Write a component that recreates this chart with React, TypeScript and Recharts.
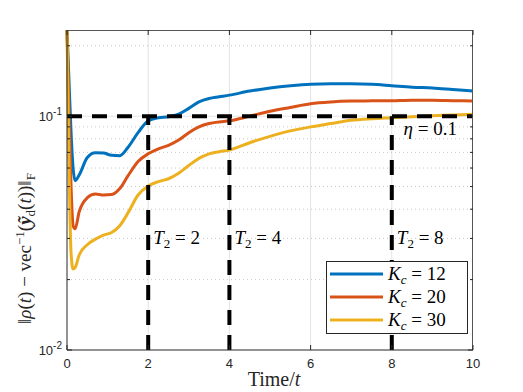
import React from "react";
import {
  LineChart,
  Line,
  XAxis,
  YAxis,
  ReferenceLine,
  Legend,
  Label,
} from "recharts";

// sample times (shared by the three runs)
const time = [
  0, 0.05, 0.1, 0.15, 0.2, 0.3, 0.5, 0.7, 0.9, 1.1, 1.3, 1.5, 1.75, 2, 2.25,
  2.5, 2.75, 3, 3.25, 3.5, 3.75, 4, 4.5, 5, 5.5, 6, 6.5, 7, 7.5, 8, 8.5, 9,
  9.5, 10,
];

const kc12 = [
  0.233, 0.14, 0.085, 0.06, 0.053, 0.056, 0.0665, 0.0697, 0.0695, 0.068,
  0.0678, 0.0735, 0.085, 0.0955, 0.0985, 0.0995, 0.102, 0.108, 0.115, 0.119,
  0.121, 0.123, 0.128, 0.132, 0.135, 0.137, 0.1375, 0.1375, 0.137, 0.135,
  0.133, 0.132, 0.13, 0.128,
];

const kc20 = [
  0.233, 0.1, 0.05, 0.034, 0.033, 0.039, 0.0448, 0.0465, 0.046, 0.0462, 0.049,
  0.0555, 0.064, 0.069, 0.0725, 0.075, 0.079, 0.085, 0.09, 0.093, 0.0945,
  0.0955, 0.1, 0.105, 0.109, 0.113, 0.115, 0.116, 0.1163, 0.1165, 0.117,
  0.117, 0.1165, 0.116,
];

const kc30 = [
  0.233, 0.06, 0.026, 0.0222, 0.0225, 0.0255, 0.0282, 0.0298, 0.031, 0.0318,
  0.034, 0.0385, 0.046, 0.0503, 0.0525, 0.054, 0.057, 0.0615, 0.066, 0.069,
  0.0705, 0.0716, 0.077, 0.082, 0.0865, 0.09, 0.093, 0.096, 0.0975, 0.0985,
  0.0995, 0.1005, 0.1012, 0.102,
];

const seriesNames = ["12", "20", "30"];
const seriesColors = ["#0072BD", "#D95319", "#EDB120"];

const xTicks = [0, 2, 4, 6, 8, 10];
const xGrid = [2, 4, 6, 8];
const yMajor = [0.01, 0.1];
const yMinor = [0.02, 0.03, 0.04, 0.05, 0.06, 0.07, 0.08, 0.09, 0.2];
const yDomain: [number, number] = [0.01, 0.2336];
const xDomain: [number, number] = [0, 10];

const eta = 0.1;
const t2Values = [2, 4, 8];

const data = time.map((t, i) => ({
  t,
  k12: kc12[i],
  k20: kc20[i],
  k30: kc30[i],
}));

const W = 523;
const H = 392;
const M = { top: 30, right: 50 };
const LEFT_W = 67;
const BOTTOM_H = 42;
const PLOT_TOP = M.top;
const PLOT_LEFT = LEFT_W;
const PLOT_RIGHT = W - M.right;

const AX = "#262626";
const BOX = "#555555";
const SANS = "'Liberation Sans', Arial, sans-serif";
const SERIF = "'Liberation Serif', 'Times New Roman', serif";

const expOf = (v: number) => Math.round(Math.log10(v));
const isMajor = (v: number) => yMajor.some((m) => Math.abs(m - v) < 1e-9);

// bottom tick: inward mark at bottom and top of the box + label;
// the first and last ticks also close the box (top and right sides)
const BottomTick = (p: any) => {
  const v = p.payload.value;
  return (
    <g>
      {v === xDomain[0] && (
        <line
          x1={PLOT_LEFT}
          x2={PLOT_RIGHT}
          y1={PLOT_TOP + 0.5}
          y2={PLOT_TOP + 0.5}
          stroke={BOX}
          strokeWidth={1}
        />
      )}
      {v === xDomain[1] && (
        <line
          x1={p.x - 0.5}
          x2={p.x - 0.5}
          y1={PLOT_TOP}
          y2={p.y}
          stroke={BOX}
          strokeWidth={1}
        />
      )}
      <line x1={p.x} x2={p.x} y1={p.y} y2={p.y - 5} stroke={AX} />
      <line x1={p.x} x2={p.x} y1={PLOT_TOP} y2={PLOT_TOP + 5} stroke={AX} />
      <text
        x={p.x}
        y={p.y + 18}
        textAnchor="middle"
        fontFamily={SANS}
        fontSize={13}
        fill={AX}
      >
        {v}
      </text>
    </g>
  );
};

const LeftTick = (p: any) => {
  const v = p.payload.value;
  const major = isMajor(v);
  const len = major ? 5 : 3;
  return (
    <g>
      <line x1={p.x} x2={p.x + len} y1={p.y} y2={p.y} stroke={AX} />
      <line
        x1={PLOT_RIGHT}
        x2={PLOT_RIGHT - len}
        y1={p.y}
        y2={p.y}
        stroke={AX}
      />
      {major && (
        <text
          x={p.x - 5}
          y={p.y + 5}
          textAnchor="end"
          fontFamily={SANS}
          fontSize={13}
          fill={AX}
        >
          10
          <tspan dy={-6} fontSize={10}>
            {expOf(v)}
          </tspan>
        </text>
      )}
    </g>
  );
};

const T2Label = (value: number) => (props: any) => {
  const vb = props.viewBox || {};
  const x = vb.x + 5;
  const y = vb.y + vb.height / 2 + 11;
  return (
    <text x={x} y={y} fontFamily={SERIF} fontSize={19} fill="#000">
      <tspan fontStyle="italic">T</tspan>
      <tspan fontSize={13} dy={4}>
        2
      </tspan>
      <tspan dy={-4}>{` = ${value}`}</tspan>
    </text>
  );
};

const EtaLabel = (props: any) => {
  const vb = props.viewBox || {};
  return (
    <text
      x={vb.x + vb.width - 16}
      y={vb.y + 19}
      textAnchor="end"
      fontFamily={SERIF}
      fontSize={19}
      fill="#000"
    >
      <tspan fontStyle="italic">η</tspan>
      {` = ${eta}`}
    </text>
  );
};

// rotated y label, drawn from its lower end upwards
const YLabel = () => (
  <g transform="translate(31 324) rotate(-90)">
    <text x={0} y={0} fontFamily={SERIF} fontSize={19} fill={AX}>
      {"‖"}
      <tspan fontStyle="italic">ρ</tspan>(<tspan fontStyle="italic">t</tspan>)
      {" − vec"}
      <tspan dy={-7} fontSize={13}>
        −1
      </tspan>
      <tspan dy={7}>(</tspan>
      <tspan fontWeight="bold" fontStyle="italic">
        ỹ
      </tspan>
      <tspan dy={4} fontSize={13}>
        d
      </tspan>
      <tspan dy={-4}>(</tspan>
      <tspan fontStyle="italic">t</tspan>
      {"))‖"}
      <tspan dy={4} fontSize={13}>
        F
      </tspan>
    </text>
  </g>
);

const XLabel = (props: any) => {
  const vb = props.viewBox || {};
  return (
    <text
      x={vb.x + vb.width / 2 + 4}
      y={vb.y + 36}
      textAnchor="middle"
      fontFamily={SERIF}
      fontSize={20}
      fill={AX}
    >
      Time/<tspan fontStyle="italic">t</tspan>
    </text>
  );
};

const LegendBox = (props: any) => {
  const items = props.payload || [];
  return (
    <svg width={142} height={73} style={{ display: "block" }}>
      <rect
        x={0.5}
        y={0.5}
        width={141}
        height={72}
        fill="#fff"
        stroke={AX}
        strokeWidth={1}
      />
      {items.map((it: any, i: number) => {
        const cy = 13 + i * 23;
        return (
          <g key={i}>
            <line
              x1={4}
              x2={57}
              y1={cy}
              y2={cy}
              stroke={it.color}
              strokeWidth={3}
            />
            <text x={62} y={cy + 6} fontFamily={SERIF} fontSize={19} fill="#000">
              <tspan fontStyle="italic">K</tspan>
              <tspan fontStyle="italic" fontSize={13} dy={4}>
                c
              </tspan>
              <tspan dy={-4}>{` = ${it.value}`}</tspan>
            </text>
          </g>
        );
      })}
    </svg>
  );
};

export default function App() {
  return (
    <div style={{ position: "absolute", left: 0, top: 0, background: "#fff" }}>
      <LineChart
        width={W}
        height={H}
        data={data}
        margin={{ top: M.top, right: M.right, left: 0, bottom: 0 }}
      >
        {xGrid.map((x) => (
          <ReferenceLine key={"gx" + x} x={x} stroke="#e3e3e3" strokeWidth={1} />
        ))}
        <ReferenceLine y={0.1} stroke="#e3e3e3" strokeWidth={1} />
        {yMinor.map((y) => (
          <ReferenceLine
            key={"gy" + y}
            y={y}
            stroke="#c8c8c8"
            strokeWidth={1}
            strokeDasharray="1 3"
          />
        ))}

        <XAxis
          dataKey="t"
          type="number"
          domain={xDomain}
          ticks={xTicks}
          height={BOTTOM_H}
          tickLine={false}
          tickSize={0}
          tickMargin={0}
          tick={BottomTick}
          stroke={AX}
          interval={0}
        >
          <Label content={XLabel} />
        </XAxis>
        <YAxis
          scale="log"
          type="number"
          domain={yDomain}
          allowDataOverflow
          ticks={[...yMajor, ...yMinor]}
          width={LEFT_W}
          tickLine={false}
          tickSize={0}
          tickMargin={0}
          tick={LeftTick}
          stroke={AX}
          interval={0}
        >
          <Label content={YLabel} />
        </YAxis>

        <Line
          type="monotone"
          dataKey="k12"
          name={seriesNames[0]}
          stroke={seriesColors[0]}
          strokeWidth={3}
          dot={false}
          activeDot={false}
          isAnimationActive={false}
        />
        <Line
          type="monotone"
          dataKey="k20"
          name={seriesNames[1]}
          stroke={seriesColors[1]}
          strokeWidth={3}
          dot={false}
          activeDot={false}
          isAnimationActive={false}
        />
        <Line
          type="monotone"
          dataKey="k30"
          name={seriesNames[2]}
          stroke={seriesColors[2]}
          strokeWidth={3}
          dot={false}
          activeDot={false}
          isAnimationActive={false}
        />

        <ReferenceLine
          segment={[
            { x: xDomain[0], y: eta },
            { x: xDomain[1], y: eta },
          ]}
          stroke="#000"
          strokeWidth={4}
          strokeDasharray="15 10"
          label={<Label content={EtaLabel} />}
        />
        {t2Values.map((t2) => (
          <ReferenceLine
            key={"t2" + t2}
            segment={[
              { x: t2, y: yDomain[0] },
              { x: t2, y: eta },
            ]}
            stroke="#000"
            strokeWidth={4}
            strokeDasharray="15 10"
            label={<Label content={T2Label(t2)} />}
          />
        ))}

        <Legend
          layout="vertical"
          align="center"
          verticalAlign="middle"
          content={LegendBox}
          wrapperStyle={{ left: 326, top: 261, width: 142, height: 73 }}
        />
      </LineChart>
    </div>
  );
}
